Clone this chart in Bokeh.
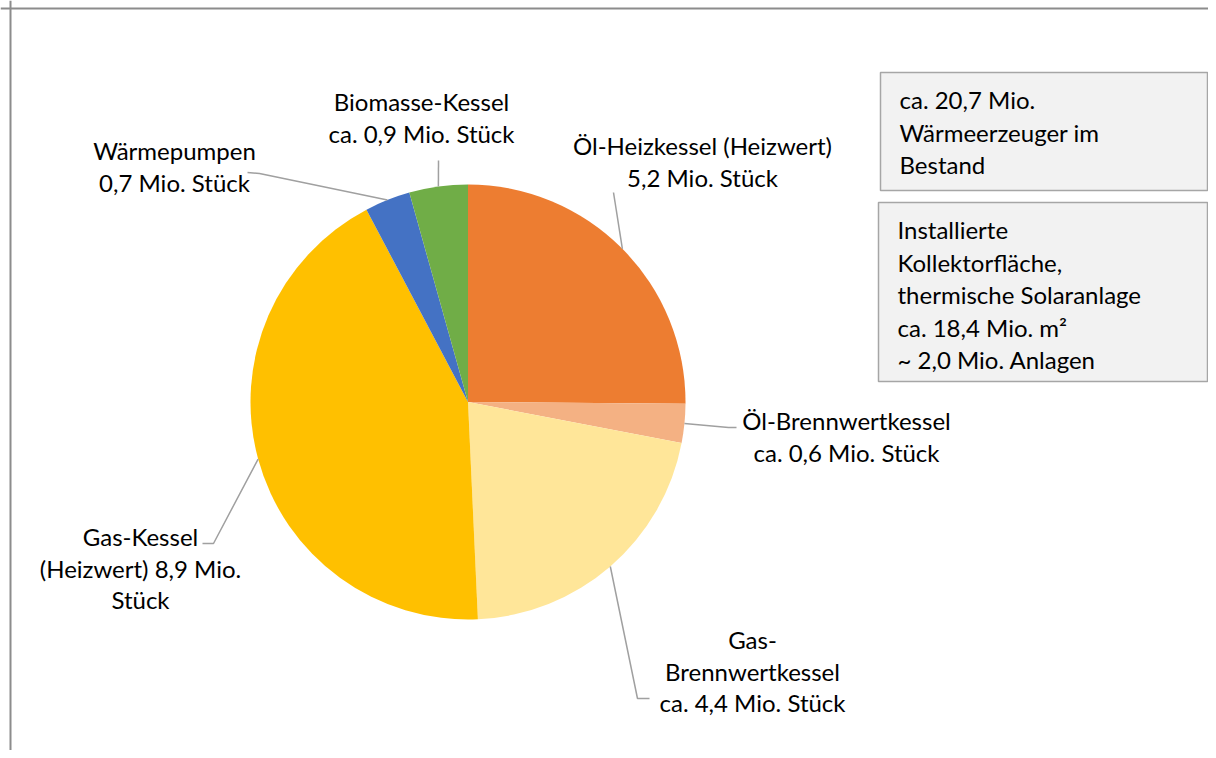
import math
from bokeh.plotting import figure
from bokeh.models import Range1d, Span
from bokeh.core.properties import value
from bokeh.embed import file_html
from bokeh.resources import INLINE

# ---- data ----
categories = ["Öl-Heizkessel (Heizwert)", "Öl-Brennwertkessel", "Gas-Brennwertkessel",
              "Gas-Kessel (Heizwert)", "Wärmepumpen", "Biomasse-Kessel"]
values = [5.2, 0.6, 4.4, 8.9, 0.7, 0.9]
colors = ["#ED7D31", "#F4B183", "#FFE699", "#FFC000", "#4472C4", "#70AD47"]
label_lines = [
    ["Öl-Heizkessel (Heizwert)", "5,2 Mio. Stück"],
    ["Öl-Brennwertkessel", "ca. 0,6 Mio. Stück"],
    ["Gas-", "Brennwertkessel", "ca. 4,4 Mio. Stück"],
    ["Gas-Kessel", "(Heizwert) 8,9 Mio.", "Stück"],
    ["Wärmepumpen", "0,7 Mio. Stück"],
    ["Biomasse-Kessel", "ca. 0,9 Mio. Stück"],
]
box1_lines = ["ca. 20,7 Mio.", "Wärmeerzeuger im", "Bestand"]
box2_lines = ["Installierte", "Kollektorfläche,", "thermische Solaranlage",
              "ca. 18,4 Mio. m²", "~ 2,0 Mio. Anlagen"]

# ---- layout (picture pixel positions) ----
W, H = 1208, 750
def X(px): return px
def Y(py): return H - py

CX, CY, R = 467.5, 401.5, 217.5
FONT = "Lato"
FS = "24px"
LH = 31.5

# label anchor: center x, first line center y
label_pos = [(702, 145), (846, 420), (752, 639), (140, 536), (174, 150), (421, 101)]
# leader line bends / ends after the pie-edge start point
leader_pts = [
    [(613, 192)],
    [(728, 427), (736, 427)],
    [(637, 698), (649, 698)],
    [(213, 543), (202, 543)],
    [(259, 173), (247, 172)],
    [(438, 160)],
]

p = figure(width=W, height=H, output_backend="svg", toolbar_location=None,
           x_range=Range1d(0, W), y_range=Range1d(0, H), min_border=0)
p.axis.visible = False
p.grid.visible = False
p.outline_line_color = None
p.background_fill_color = "white"
p.border_fill_color = "white"

# chart border (top + left only visible)
p.add_layout(Span(location=Y(8), dimension="width", line_color="#8C8C8C", line_width=2))
p.add_layout(Span(location=X(10), dimension="height", line_color="#8C8C8C", line_width=2))

total = sum(values)
starts, ends, mids = [], [], []
cum = 0.0
for v in values:
    a0 = math.pi / 2 - 2 * math.pi * cum / total
    cum += v
    a1 = math.pi / 2 - 2 * math.pi * cum / total
    starts.append(a0)
    ends.append(a1)
    mids.append((a0 + a1) / 2)

p.wedge(x=[X(CX)] * len(values), y=[Y(CY)] * len(values), radius=R,
        start_angle=starts, end_angle=ends, direction="clock",
        fill_color=colors, line_color=None)

# leader lines
xs, ys = [], []
for m, pts in zip(mids, leader_pts):
    sx = X(CX) + R * math.cos(m)
    sy = Y(CY) + R * math.sin(m)
    xs.append([sx] + [X(a) for a, b in pts])
    ys.append([sy] + [Y(b) for a, b in pts])
p.multi_line(xs=xs, ys=ys, line_color="#A0A0A0", line_width=1.5)

# labels
tx, ty, tt = [], [], []
for (lx, ly), lines in zip(label_pos, label_lines):
    for i, t in enumerate(lines):
        tx.append(X(lx)); ty.append(Y(ly + i * LH)); tt.append(t)
p.text(x=tx, y=ty, text=tt, text_align="center", text_baseline="middle",
       text_font=value(FONT), text_font_size=FS, text_color="#000000")

# info boxes
p.quad(left=[X(880), X(878)], right=[X(1207), X(1207)],
       top=[Y(72), Y(202)], bottom=[Y(190), Y(381)],
       fill_color="#F2F2F2", line_color="#A6A6A6", line_width=1.5)

bx, by, bt = [], [], []
for i, t in enumerate(box1_lines):
    bx.append(X(899)); by.append(Y(99 + i * 32.5)); bt.append(t)
for i, t in enumerate(box2_lines):
    bx.append(X(897)); by.append(Y(229 + i * 32.5)); bt.append(t)
p.text(x=bx, y=by, text=bt, text_align="left", text_baseline="middle",
       text_font=value(FONT), text_font_size=FS, text_color="#000000")

open("out.html", "w").write(file_html(p, INLINE))
